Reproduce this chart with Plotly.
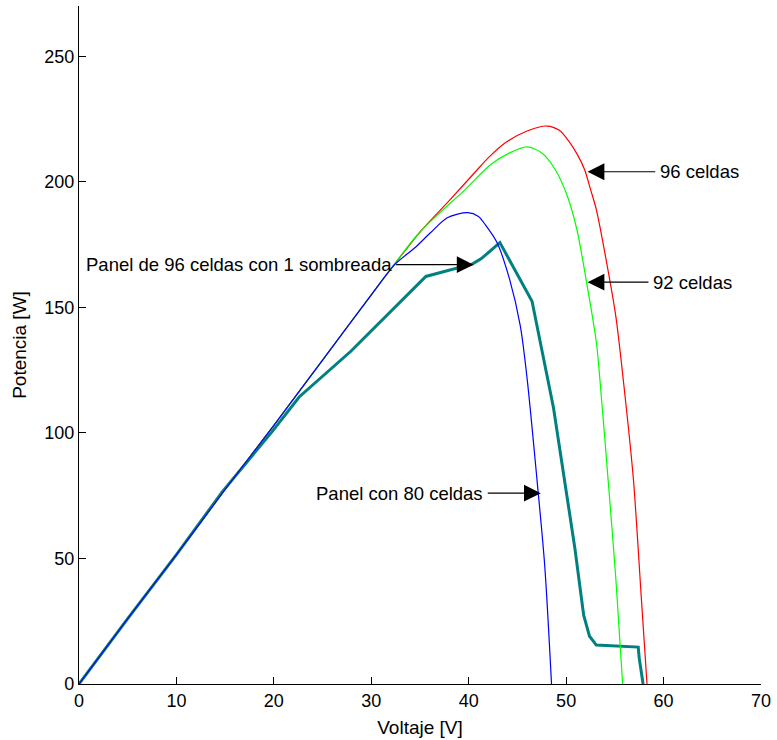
import plotly.graph_objects as go

# Potencia vs voltaje de paneles fotovoltaicos
v_80 = [0, 5, 10, 15, 20, 25, 30, 32.4, 34.5, 36.1, 37.8, 39.9, 41.0, 41.7, 42.9, 44.2, 45.3, 46.0, 47.0, 47.8, 48.5]
p_80 = [0, 26, 51.5, 77.5, 103, 129, 155, 167, 173.8, 179.8, 185.7, 187.7, 186.2, 182.9, 175.8, 161.1, 142.5, 121.4, 81.7, 47.2, 0]

v_92 = [0, 5, 10, 15, 20, 25, 30, 35, 39.6, 42.2, 44.2, 46.0, 47.5, 48.7, 50.0, 51.1, 52.1, 53.1, 53.6, 54.3, 55.1, 55.8]
p_92 = [0, 26, 51.5, 77.5, 103, 129, 155, 180, 196.8, 206.7, 211.5, 213.9, 211.5, 206, 195.6, 181, 159.9, 136.1, 115, 81.7, 42, 0]

v_96 = [0, 5, 10, 15, 20, 25, 30, 35, 38.0, 40.6, 42.0, 43.9, 46.0, 48.0, 49.3, 50.4, 51.2, 51.9, 52.5, 53.1, 54.1, 55.1, 56.0, 56.9, 57.7, 58.3]
p_96 = [0, 26, 51.5, 77.5, 103, 129, 155, 180, 192.5, 203.6, 209.5, 215.9, 220.2, 222.2, 220.5, 215.5, 210.5, 204.8, 197, 188.9, 169, 146.4, 116.3, 81.7, 35.3, 0]

v_somb = [0, 5, 10, 14.7, 19.8, 22.6, 27.9, 35.6, 40.4, 41.3, 43.2, 46.5, 48.7, 50.9, 51.8, 52.4, 53.1, 57.4, 57.5, 57.9]
p_somb = [0, 26, 51.5, 76.5, 100.4, 114.3, 132.5, 162.3, 167.3, 169.4, 175.8, 152.4, 110, 54, 27.4, 19, 15.5, 14.7, 10.3, 0]

x_ticks = [0, 10, 20, 30, 40, 50, 60, 70]
y_ticks = [0, 50, 100, 150, 200, 250]

FONT = "Liberation Sans, Arial, sans-serif"

fig = go.Figure()
fig.add_trace(go.Scatter(x=v_somb, y=p_somb, mode="lines",
                         line=dict(color="rgb(0,128,128)", width=3)))
for vs, ps, col in [(v_96, p_96, "rgb(255,0,0)"),
                    (v_92, p_92, "rgb(0,255,0)"),
                    (v_80, p_80, "rgb(0,0,255)")]:
    fig.add_trace(go.Scatter(x=vs, y=ps, mode="lines",
                             line=dict(color=col, width=1.2, shape="spline", smoothing=0.8)))

# (texto, punta de flecha x, y, cola x, lado del texto)
notes = [
    ("96 celdas", 52.2, 204, 59.3, "left"),
    ("92 celdas", 52.2, 160, 58.6, "left"),
    ("Panel de 96 celdas con 1 sombreada", 40.5, 167, 32.4, "right"),
    ("Panel con 80 celdas", 47.4, 76, 41.8, "right"),
]
for text, xt, yt, xtail, side in notes:
    fig.add_annotation(x=xt, y=yt, ax=xtail, ay=yt, xref="x", yref="y",
                       axref="x", ayref="y", text="", showarrow=True,
                       arrowhead=2, arrowsize=2.8, arrowwidth=1.2, arrowcolor="black")
    fig.add_annotation(x=xtail, y=yt, xref="x", yref="y", text=text,
                       showarrow=False, xanchor=side, yanchor="middle",
                       xshift=1 if side == "left" else -1,
                       font=dict(family=FONT, size=18.5, color="black"))

axis_common = dict(showline=True, linecolor="black", linewidth=1.2,
                   ticks="inside", ticklen=7, tickcolor="black",
                   showgrid=False, zeroline=False, mirror=False,
                   tickfont=dict(family=FONT, size=18, color="black"))

fig.update_xaxes(range=[0, 70], tickvals=x_ticks,
                 title=dict(text="Voltaje [V]", font=dict(family=FONT, size=19, color="black"), standoff=10),
                 **axis_common)
fig.update_yaxes(range=[0, 270], tickvals=y_ticks,
                 title=dict(text="Potencia [W]", font=dict(family=FONT, size=19, color="black"), standoff=12),
                 **axis_common)

fig.update_layout(width=777, height=740, showlegend=False,
                  plot_bgcolor="white", paper_bgcolor="white",
                  margin=dict(l=79, r=11, t=6, b=54))

fig.write_html("out.html")
